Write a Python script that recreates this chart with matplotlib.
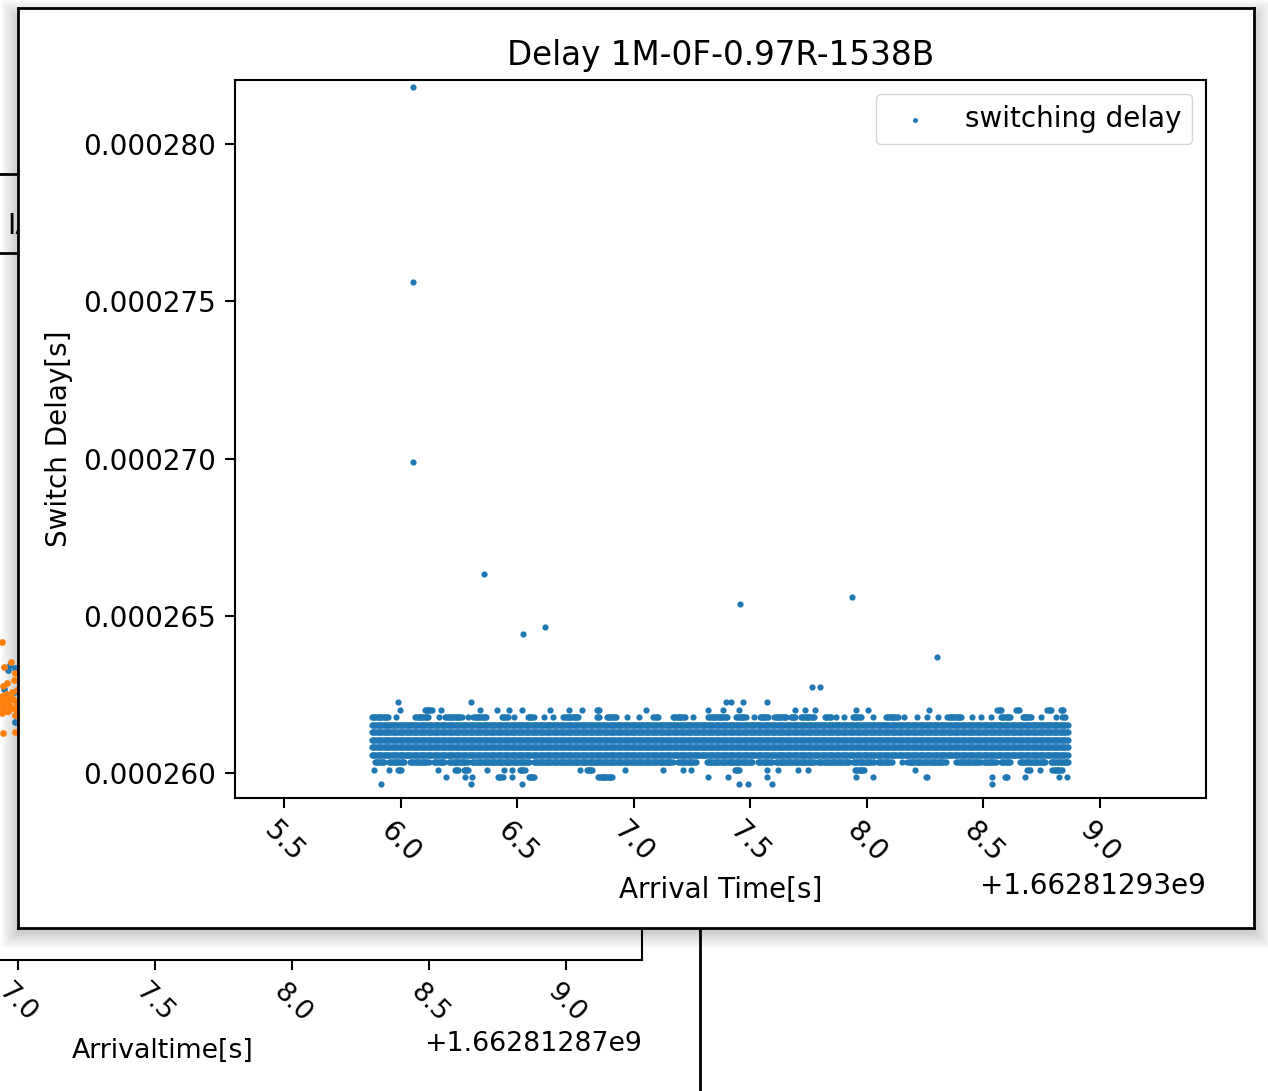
import numpy as np
import matplotlib
matplotlib.use('Agg')
import matplotlib.pyplot as plt
from matplotlib.patches import Rectangle
from matplotlib.ticker import MultipleLocator

# epoch base of the arrival times (front window / window behind)
t0 = 1662812930
t0_back = 1662812870

# delay levels [s] of the dense band, bottom to top
lvl = [0.00025964, 0.00025988, 0.00026011, 0.00026035, 0.00026059, 0.00026083,
       0.00026106, 0.00026130, 0.00026154, 0.00026178, 0.00026202, 0.00026226,
       0.00026273]

# arrival times (s after t0) per level: single packets or (from, to) runs
runs_25964 = [5.917, 6.303, 6.521, 7.451, 7.490, 7.594, 8.536]
runs_25988 = [6.195, 6.277, 6.306, (6.418, 6.442), 6.478, (6.549, 6.578), (6.848, 6.912),
              7.320, 7.404, 7.572, 7.954, 8.026, (8.253, 8.260), 8.539, (8.593, 8.603),
              8.679, 8.825, 8.860]
runs_26011 = [5.885, 5.949, (5.989, 6.006), 6.160, (6.233, 6.249), (6.271, 6.292), 6.370,
              6.442, 6.478, (6.512, 6.532), 6.769, (6.798, 6.824), 6.962, 7.126, 7.212,
              7.248, (7.433, 7.454), 7.572, 7.621, 7.704, 7.747, (7.950, 7.990), 8.206,
              (8.689, 8.703), 8.742, (8.796, 8.839)]
runs_26035 = [(5.890, 5.933), (5.950, 6.019), (6.040, 6.122), (6.143, 6.190), (6.208, 6.289),
              (6.306, 6.551), (6.572, 7.169), (7.191, 7.270), (7.313, 7.511), (7.533, 7.597),
              (7.611, 7.776), (7.790, 7.926), (7.940, 8.033), (8.047, 8.111), 8.150,
              (8.174, 8.339), (8.384, 8.489), (8.503, 8.553), (8.575, 8.618), (8.656, 8.768),
              (8.789, 8.865)]
runs_full = [(5.877, 8.865)]
runs_26178 = [(5.877, 5.949), 5.981, (6.063, 6.120), 6.163, (6.192, 6.263), 6.289,
              (6.313, 6.370), (6.435, 6.464), 6.485, (6.546, 6.571), 6.615, 6.652,
              (6.698, 6.766), (6.841, 6.855), (6.884, 6.927), 6.972, 7.021, (7.084, 7.105),
              (7.169, 7.220), 7.255, (7.320, 7.404), (7.440, 7.483), 7.515, (7.540, 7.575),
              (7.604, 7.654), (7.673, 7.697), (7.718, 7.776), (7.821, 7.847), 7.868, 7.904,
              (7.940, 7.976), 8.026, (8.083, 8.133), 8.160, 8.217, 8.260, 8.307,
              (8.346, 8.410), 8.453, 8.489, 8.532, (8.575, 8.618), (8.668, 8.703), 8.746,
              8.810, (8.839, 8.853)]
runs_26202 = [5.997, (6.103, 6.135), 6.173, 6.340, 6.412, 6.465, 6.522, 6.641, 6.721, 6.777,
              (6.841, 6.852), 7.052, 7.320, 7.383, 7.450, 7.693, 7.735, 7.778, 7.954, 8.007,
              8.267, (8.560, 8.579), (8.642, 8.653), (8.775, 8.793), (8.832, 8.846)]
runs_26226 = [5.988, 6.302, 7.397, 7.418, 7.468, 7.571]
runs_26273 = [7.764, 7.801]

band = [runs_25964, runs_25988, runs_26011, runs_26035, runs_full, runs_full, runs_full,
        runs_full, runs_full, runs_26178, runs_26202, runs_26226, runs_26273]

# the few slow packets above the band
out_x = [6.053, 6.053, 6.053, 6.358, 6.525, 6.619, 7.455, 7.936, 8.300]
out_y = [0.00028181, 0.00027561, 0.00026989, 0.00026633, 0.00026442, 0.00026464,
         0.00026537, 0.00026560, 0.00026369]

# window behind: the bit of its scatter that peeks out on the left
back_x_orange = [6.942, 6.950, 6.975, 6.990, 6.945, 6.960, 6.985, 6.996, 6.940, 6.955,
                 6.970, 6.992, 6.948, 6.965, 6.980, 6.994, 6.943, 6.958, 6.988, 6.945, 6.989,
                 6.938, 6.952, 6.968, 6.982, 6.940, 6.962, 6.978]
back_y_orange = [0.418, 0.385, 0.392, 0.378, 0.360, 0.365, 0.368, 0.355, 0.348, 0.350,
                 0.345, 0.340, 0.335, 0.338, 0.332, 0.330, 0.325, 0.328, 0.322, 0.299, 0.300,
                 0.340, 0.342, 0.336, 0.344, 0.332, 0.327, 0.352]
back_x_blue = [6.971, 6.963, 6.989, 6.950, 6.985, 6.989]
back_y_blue = [0.388, 0.381, 0.384, 0.356, 0.352, 0.313]

step = 0.005
xs, ys = [], []
for level, runs in zip(lvl, band):
    for r in runs:
        if isinstance(r, tuple):
            pts = np.arange(r[0], r[1] + 1e-9, step)
        else:
            pts = np.array([r])
        xs.extend(t0 + pts)
        ys.extend([level] * len(pts))
xs.extend(t0 + np.array(out_x))
ys.extend(out_y)

W, H = 1268, 1091
fig = plt.figure(figsize=(W / 100, H / 100), dpi=100)
fs = 20
fs_back = 19.3


def box(left, top, w, h):
    return [left / W, 1 - (top + h) / H, w / W, h / H]


# desktop layer: drop shadow of the front window, edges of the one behind
scr = fig.add_axes([0, 0, 1, 1], zorder=0)
scr.set_xlim(0, W)
scr.set_ylim(H, 0)
scr.axis('off')
for d in range(1, 18):
    scr.add_patch(Rectangle((18 - d, 8 - d + 9), 1236 + 2 * d, 920 + 2 * d - 6,
                            color='black', alpha=0.011, lw=0))
scr.plot([700, 700], [928, H], color='black', lw=2)
scr.plot([0, 18], [174, 174], color='black', lw=2)
scr.plot([0, 18], [253, 253], color='black', lw=2)
scr.text(7, 226, 'IAT', fontsize=fs, va='center')

# chart in the window behind
bax = fig.add_axes(box(-316, 200, 958, 760), zorder=1)
bax.patch.set_visible(False)
bax.scatter(t0_back + np.array(back_x_blue), back_y_blue, s=24, lw=0, color='C0')
bax.scatter(t0_back + np.array(back_x_orange), back_y_orange, s=24, lw=0, color='C1')
bax.set_xlim(t0_back + 5.781, t0_back + 9.277)
bax.set_ylim(0, 1)
bax.xaxis.set_major_locator(MultipleLocator(0.5))
bax.set_yticks([])
bax.spines['top'].set_visible(False)
bax.spines['left'].set_visible(False)
for s in bax.spines.values():
    s.set_linewidth(1.5)
bax.tick_params(axis='x', labelsize=fs_back, labelrotation=-45, length=7, width=1.5, pad=6.5)
bax.xaxis.get_offset_text().set_fontsize(fs_back)
bax.set_xlabel('Arrivaltime[s]', fontsize=fs_back, labelpad=7.5)

# front window
fax = fig.add_axes(box(18, 8, 1236, 920), zorder=2)
fax.set_xticks([])
fax.set_yticks([])
fax.set_facecolor('white')
for s in fax.spines.values():
    s.set_linewidth(2)

ax = fig.add_axes(box(235, 80, 971, 718), zorder=3)
ax.scatter(xs, ys, s=20, lw=0, color='#1f77b4', label='switching delay')
ax.set_xlim(t0 + 5.29, t0 + 9.455)
ax.set_ylim(0.00025921, 0.00028203)
ax.xaxis.set_major_locator(MultipleLocator(0.5))
ax.yaxis.set_major_locator(MultipleLocator(5e-6))
ax.tick_params(labelsize=fs, length=7, width=1.5, pad=6.5)
ax.tick_params(axis='x', labelrotation=-45)
ax.xaxis.get_offset_text().set_fontsize(fs)
for s in ax.spines.values():
    s.set_linewidth(1.5)
ax.set_title('Delay 1M-0F-0.97R-1538B', fontsize=23.5, pad=11)
ax.set_xlabel('Arrival Time[s]', fontsize=fs, labelpad=6)
ax.set_ylabel('Switch Delay[s]', fontsize=fs, labelpad=7.5)
ax.legend(loc='upper right', fontsize=fs, markerscale=0.8)

fig.savefig('out.png', dpi=100)
